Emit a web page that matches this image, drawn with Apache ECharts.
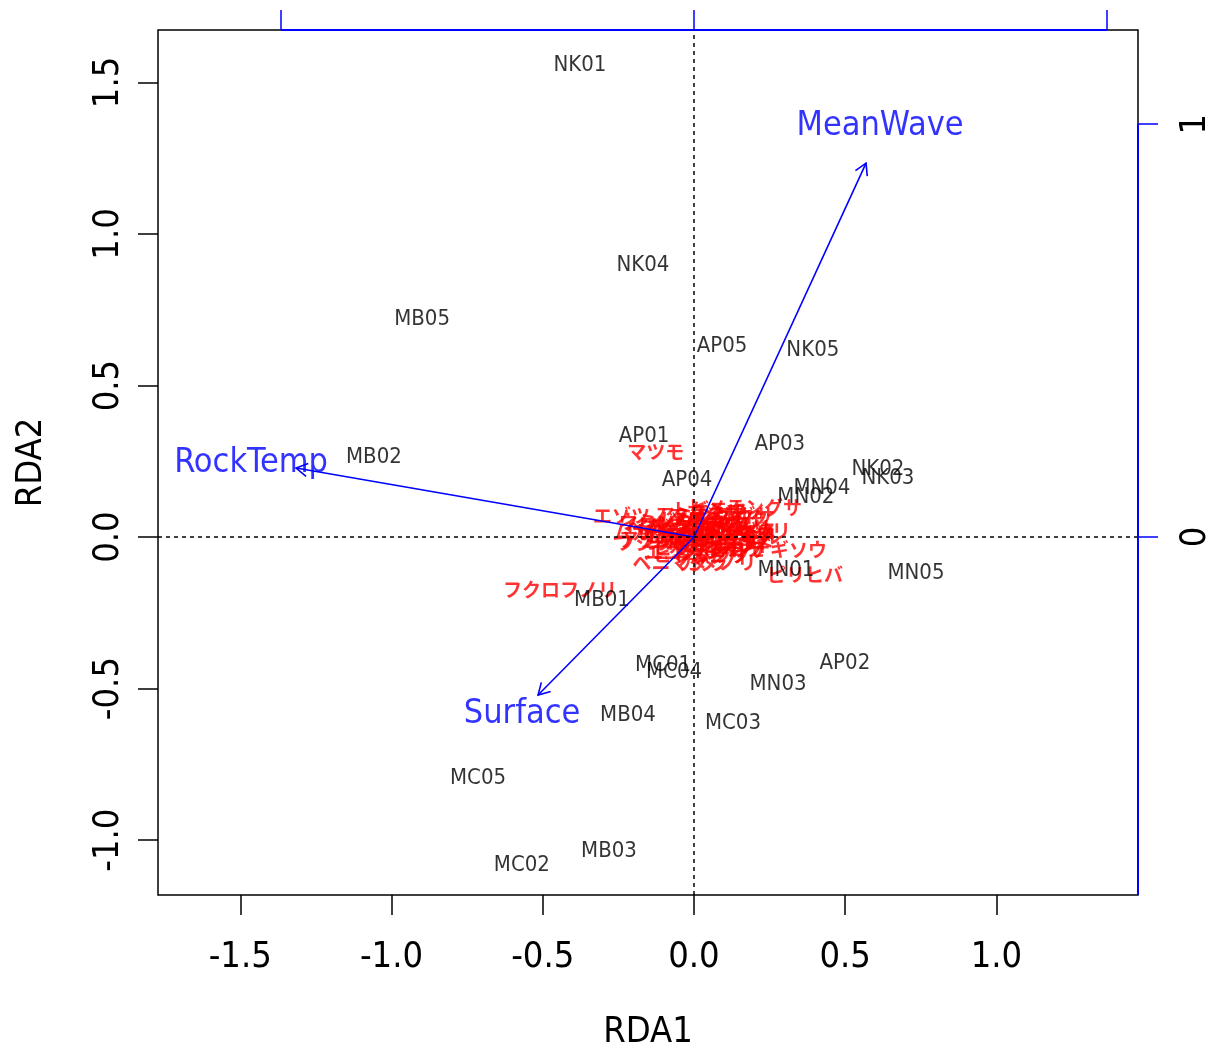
<!DOCTYPE html>
<html>
<head>
<meta charset="utf-8">
<script src="https://cdn.jsdelivr.net/npm/echarts@6/dist/echarts.min.js"></script>
<style>
  html, body { margin: 0; padding: 0; background: #fff; }
  #chart { width: 1209px; height: 1045px; }
</style>
</head>
<body>
<div id="chart"></div>
<script>
// RDA biplot: sites (black), species (red), environmental arrows (blue)
const narrow = "'Liberation Sans Narrow', 'DejaVu Sans Condensed', 'Liberation Sans', sans-serif"
const jp = "'Noto Sans CJK JP', 'Noto Sans CJK SC', sans-serif"

// main axes (site / species scores)
const xRange = [-1.772, 1.468]
const yRange = [-1.181, 1.673]
const xTicks = [-1.5, -1.0, -0.5, 0.0, 0.5, 1.0]
const yTicks = [-1.0, -0.5, 0.0, 0.5, 1.0, 1.5]

// biplot axes (top / right, blue)
const bxRange = [-1.298, 1.075]
const byRange = [-0.867, 1.228]
const bxTicks = [-1, 0, 1]
const byTicks = [0, 1]

const siteNames = ['NK01', 'NK04', 'MB05', 'AP05', 'NK05', 'AP01', 'AP03', 'MB02', 'AP04', 'NK02',
  'NK03', 'MN04', 'MN02', 'MN01', 'MN05', 'MB01', 'MC01', 'MC04', 'AP02', 'MN03',
  'MB04', 'MC03', 'MC05', 'MC02', 'MB03']
const siteX = [-0.377, -0.169, -0.899, 0.093, 0.393, -0.165, 0.284, -1.058, -0.023, 0.608,
  0.641, 0.423, 0.370, 0.304, 0.734, -0.304, -0.102, -0.066, 0.499, 0.278,
  -0.218, 0.129, -0.714, -0.569, -0.281]
const siteY = [1.558, 0.898, 0.719, 0.630, 0.617, 0.333, 0.307, 0.264, 0.188, 0.224,
  0.195, 0.162, 0.132, -0.109, -0.119, -0.208, -0.422, -0.446, -0.416, -0.485,
  -0.587, -0.614, -0.795, -1.083, -1.036]

const speciesNames = ['マツモ', 'フクロフノリ', 'ピリヒバ', 'エゾツノマタ', 'ヒメテングサ', 'ワツナギソウ',
  'ベニマダラ', 'カタノリ', 'アオサ', 'ツノマタ', 'イボツノマタ', 'テングサ', 'ヒジキ', 'イシゲ',
  'ソゾ', 'カニノテ', 'サンゴモ', 'ハネモ', 'ムカデノリ', 'イソダンツウ', 'ウミゾウメン',
  'シオグサ', 'アミジグサ', 'イギス', 'エゴノリ', 'オバクサ', 'ヒトエグサ', 'カバノリ',
  'イワヒゲ', 'ユナ', 'フダラク', 'コザネモ', 'ウスバアオノリ', 'トゲモク', 'アナアオサ',
  'クロモ', 'ヘラヤハズ', 'ウミウチワ', 'イソモク', 'ヒライボ', 'オオバツノマタ', 'ハイミル',
  'ミル', 'ユカリ', 'ヒビロウド', 'シマテングサ', 'ベニスナゴ', 'カイノリ', 'フシツナギ', 'マクサ']
const speciesX = [-0.126, -0.443, 0.367, -0.145, 0.169, 0.251,
  -0.046, 0.080, 0.020, 0.060, -0.020, 0.100, 0.120, -0.080,
  0.150, 0.040, 0.110, 0.000, -0.112, 0.080, -0.060,
  0.140, 0.030, 0.180, -0.040, 0.090, 0.020, 0.130,
  -0.120, 0.200, 0.060, -0.030, 0.100, 0.050, -0.090,
  0.010, -0.070, 0.070, 0.120, -0.010, 0.040, 0.160,
  0.090, -0.050, 0.110, 0.030, 0.000, 0.140, -0.100, 0.070]
const speciesY = [0.281, -0.175, -0.125, 0.069, 0.096, -0.043,
  -0.086, -0.085, 0.020, 0.040, 0.030, 0.050, 0.000, 0.010,
  -0.020, -0.030, -0.040, -0.020, 0.013, 0.010, 0.050,
  0.070, 0.070, 0.020, -0.050, -0.010, -0.060, 0.030,
  0.040, -0.010, -0.060, 0.000, 0.020, 0.090, -0.010,
  0.060, 0.030, -0.040, 0.060, -0.035, 0.010, 0.000,
  0.040, 0.000, -0.025, -0.015, 0.040, 0.015, -0.020, 0.080]

const envNames = ['MeanWave', 'RockTemp', 'Surface']
const envX = [0.4165, -0.9637, -0.3777]
const envY = [0.9056, 0.1670, -0.3826]
const envLabelX = [0.4504, -1.0726, -0.4165]
const envLabelY = [0.9952, 0.1800, -0.4286]

const sites = siteNames.map((n, i) => ({ name: n, value: [siteX[i], siteY[i]] }))
const species = speciesNames.map((n, i) => ({ name: n, value: [speciesX[i], speciesY[i]] }))
const envTips = envNames.map((n, i) => [envX[i], envY[i]])
const envLabels = envNames.map((n, i) => ({ name: n, value: [envLabelX[i], envLabelY[i]] }))

const chart = echarts.init(document.getElementById('chart'))

function renderArrow(params, api) {
  const o = api.coord([0, 0])
  const t = api.coord([api.value(0), api.value(1)])
  const ang = Math.atan2(t[1] - o[1], t[0] - o[0])
  const L = 13, a = Math.PI / 6
  const p1 = [t[0] - L * Math.cos(ang - a), t[1] - L * Math.sin(ang - a)]
  const p2 = [t[0] - L * Math.cos(ang + a), t[1] - L * Math.sin(ang + a)]
  const style = { stroke: '#0000ff', lineWidth: 1.6, fill: null }
  return {
    type: 'group',
    children: [
      { type: 'line', shape: { x1: o[0], y1: o[1], x2: t[0], y2: t[1] }, style },
      { type: 'polyline', shape: { points: [p1, t, p2] }, style }
    ]
  }
}

const tickLabel = { color: '#000', fontFamily: narrow, fontSize: 36 }
const noLine = { show: false, onZero: false }

const option = {
  animation: false,
  grid: {
    left: 158, right: 71, top: 30, bottom: 150,
    containLabel: false, outerBoundsMode: 'none',
    show: true, borderColor: '#000', borderWidth: 1.5, backgroundColor: 'transparent'
  },
  xAxis: [
    {
      type: 'value', position: 'bottom', min: xRange[0], max: xRange[1],
      axisLine: noLine, splitLine: { show: false },
      axisTick: { show: true, length: 20, customValues: xTicks, lineStyle: { color: '#000', width: 1.5 } },
      axisLabel: { ...tickLabel, margin: 45, customValues: xTicks, formatter: v => v.toFixed(1) },
      name: 'RDA1', nameLocation: 'middle', nameGap: 120,
      nameTextStyle: { color: '#000', fontFamily: narrow, fontSize: 36 }
    },
    {
      type: 'value', position: 'top', min: bxRange[0], max: bxRange[1],
      axisLine: noLine, splitLine: { show: false },
      axisTick: { show: true, length: 20, customValues: bxTicks, lineStyle: { color: '#0000ff', width: 1.5 } },
      axisLabel: { show: false }
    }
  ],
  yAxis: [
    {
      type: 'value', position: 'left', min: yRange[0], max: yRange[1],
      axisLine: noLine, splitLine: { show: false },
      axisTick: { show: true, length: 20, customValues: yTicks, lineStyle: { color: '#000', width: 1.5 } },
      axisLabel: { ...tickLabel, rotate: 90, margin: 31, customValues: yTicks, formatter: v => v.toFixed(1) },
      name: 'RDA2', nameLocation: 'middle', nameGap: 108, nameRotate: 90,
      nameTextStyle: { color: '#000', fontFamily: narrow, fontSize: 36 }
    },
    {
      type: 'value', position: 'right', min: byRange[0], max: byRange[1],
      axisLine: noLine, splitLine: { show: false },
      axisTick: { show: true, length: 20, customValues: byTicks, lineStyle: { color: '#0000ff', width: 1.5 } },
      axisLabel: { ...tickLabel, rotate: 90, margin: 40, customValues: byTicks }
    }
  ],
  series: [
    {
      // dotted zero lines
      type: 'scatter', xAxisIndex: 0, yAxisIndex: 0, data: [], silent: true,
      markLine: {
        silent: true, symbol: 'none', label: { show: false },
        lineStyle: { color: '#000', type: [4, 4], width: 1.5 },
        data: [{ xAxis: 0 }, { yAxis: 0 }]
      }
    },
    {
      // blue biplot axis lines along the top and right edges
      type: 'line', xAxisIndex: 1, yAxisIndex: 1, symbol: 'none', clip: false, silent: true, z: 5,
      lineStyle: { color: '#0000ff', width: 2 },
      data: [[bxTicks[0], byRange[1]], [bxTicks[2], byRange[1]]]
    },
    {
      type: 'line', xAxisIndex: 1, yAxisIndex: 1, symbol: 'none', clip: false, silent: true, z: 5,
      lineStyle: { color: '#0000ff', width: 2 },
      data: [[bxRange[1], byRange[0]], [bxRange[1], byTicks[1]]]
    },
    {
      name: 'species', type: 'scatter', xAxisIndex: 0, yAxisIndex: 0, symbolSize: 0, z: 2, silent: true,
      data: species,
      label: { show: true, position: 'inside', formatter: '{b}', color: '#ff0000', fontFamily: jp, fontSize: 19, fontWeight: 'bold' }
    },
    {
      name: 'sites', type: 'scatter', xAxisIndex: 0, yAxisIndex: 0, symbolSize: 0, z: 3, silent: true,
      data: sites,
      label: { show: true, position: 'inside', formatter: '{b}', color: '#000', fontFamily: narrow, fontSize: 22 }
    },
    {
      name: 'env', type: 'custom', xAxisIndex: 1, yAxisIndex: 1, z: 4, silent: true,
      renderItem: renderArrow, data: envTips
    },
    {
      name: 'envLabels', type: 'scatter', xAxisIndex: 1, yAxisIndex: 1, symbolSize: 0, z: 4, silent: true,
      data: envLabels,
      label: { show: true, position: 'inside', formatter: '{b}', color: '#0000ff', fontFamily: narrow, fontSize: 34 }
    }
  ]
}

chart.setOption(option)
</script>
</body>
</html>
